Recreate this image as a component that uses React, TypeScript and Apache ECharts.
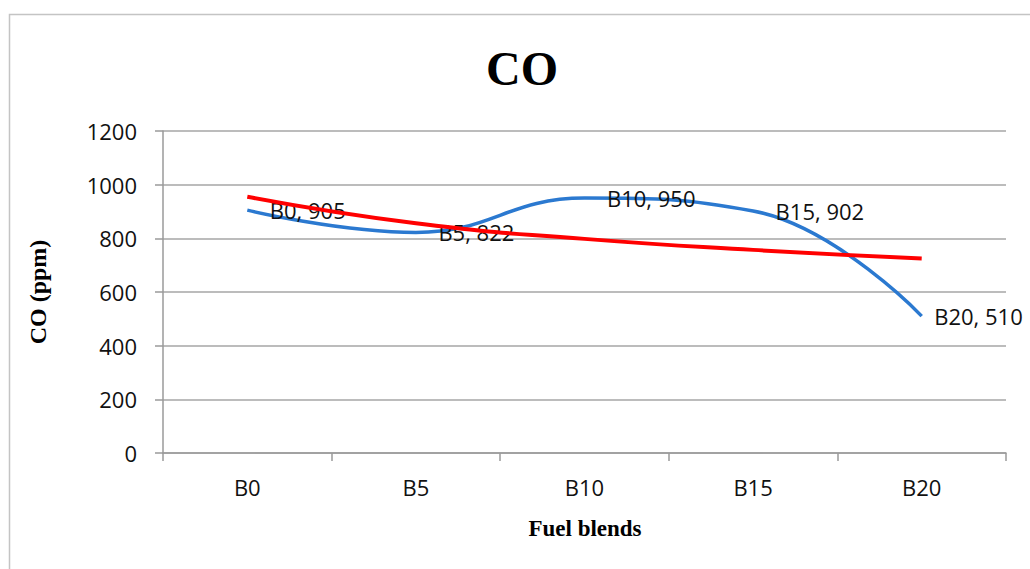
import React, { useEffect, useRef } from "react";
import * as echarts from "echarts";

const categories = ["B0", "B5", "B10", "B15", "B20"];
const coValues = [905, 822, 950, 902, 510];
const trendValues = [955, 856, 798, 757, 725];
const yTicks = { min: 0, max: 1200, interval: 200 };

const labelFont = "'Open Sans', 'Noto Sans', sans-serif";
const serifFont = "'Liberation Serif', 'DejaVu Serif', serif";

export default function App() {
  const ref = useRef<HTMLDivElement>(null);
  useEffect(() => {
    if (!ref.current) return;
    const chart = echarts.init(ref.current, undefined, { renderer: "svg" });
    chart.setOption({
      animation: false,
      backgroundColor: "#ffffff",
      grid: { left: 163, right: 24, top: 131, bottom: 116 },
      graphic: [
        {
          type: "rect",
          shape: { x: 9.5, y: 14.5, width: 1040, height: 600 },
          style: { fill: "none", stroke: "#c4c4c4", lineWidth: 1.5 },
          silent: true,
        },
        {
          type: "text",
          x: 522,
          y: 68,
          style: {
            text: "CO",
            font: `bold 48px ${serifFont}`,
            fill: "#000",
            textAlign: "center",
            textVerticalAlign: "middle",
          },
        },
        {
          type: "text",
          x: 585,
          y: 528,
          style: {
            text: "Fuel blends",
            font: `bold 23px ${serifFont}`,
            fill: "#000",
            textAlign: "center",
            textVerticalAlign: "middle",
          },
        },
        {
          type: "text",
          x: 38,
          y: 292,
          rotation: Math.PI / 2,
          style: {
            text: "CO (ppm)",
            font: `bold 24px ${serifFont}`,
            fill: "#000",
            textAlign: "center",
            textVerticalAlign: "middle",
          },
        },
      ],
      xAxis: {
        type: "category",
        data: categories,
        boundaryGap: true,
        axisLine: { show: true, lineStyle: { color: "#9a9a9a", width: 1.5 } },
        axisTick: { show: true, length: 8, lineStyle: { color: "#9a9a9a", width: 1.5 } },
        axisLabel: { color: "#111", fontSize: 22, fontFamily: labelFont, margin: 23 },
        splitLine: { show: false },
      },
      yAxis: {
        type: "value",
        min: yTicks.min,
        max: yTicks.max,
        interval: yTicks.interval,
        axisLine: { show: true, lineStyle: { color: "#9a9a9a", width: 1.5 } },
        axisTick: { show: true, length: 8, inside: false, lineStyle: { color: "#9a9a9a", width: 1.5 } },
        axisLabel: {
          color: "#111",
          fontSize: 22,
          fontFamily: labelFont,
          margin: 26,
          formatter: (v: number) => String(v),
        },
        splitLine: { show: true, lineStyle: { color: "#a6a6a6", width: 1.5 } },
      },
      series: [
        {
          name: "CO",
          type: "line",
          data: coValues.map((v, i) =>
            i === coValues.length - 1 ? { value: v, label: { distance: 12 } } : v
          ),
          smooth: 0.45,
          z: 2,
          symbol: "circle",
          symbolSize: 1,
          itemStyle: { color: "#2b79d0", opacity: 0 },
          lineStyle: { color: "#2b79d0", width: 3.5 },
          label: {
            show: true,
            position: "right",
            distance: 22,
            formatter: "{b}, {c}",
            color: "#111",
            fontSize: 22,
            fontFamily: labelFont,
            opacity: 1,
          },
        },
        {
          name: "Trend",
          type: "line",
          data: trendValues,
          smooth: true,
          z: 3,
          symbol: "none",
          lineStyle: { color: "#ff0000", width: 4 },
        },
      ],
    });
    return () => chart.dispose();
  }, []);
  return (
    <div
      ref={ref}
      style={{ position: "fixed", left: 0, top: 0, width: 1030, height: 569 }}
    />
  );
}
